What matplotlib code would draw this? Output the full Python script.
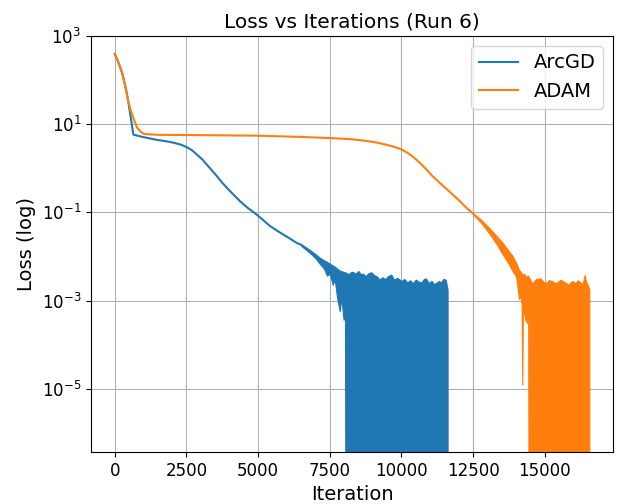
import matplotlib
matplotlib.use("Agg")
import matplotlib.pyplot as plt
from matplotlib.ticker import FixedLocator, NullLocator, LogFormatterSciNotation

# ---------------- ArcGD ----------------
# smooth part of the loss curve
arc_iter = [0, 100, 250, 380, 470, 560, 650, 1000, 1482, 1800, 2060, 2300, 2523, 2700,
            2870, 3050, 3218, 3400, 3565, 3750, 3912, 4150, 4375, 4650, 4954, 5200,
            5417, 5764, 6050, 6343, 6500]
arc_loss = [390, 280, 150, 68, 33, 14, 5.8, 5.1, 4.4, 4.1, 3.8, 3.45, 3.0, 2.55,
            2.04, 1.6, 1.2, 0.88, 0.66, 0.47, 0.36, 0.25, 0.178, 0.125, 0.089, 0.065,
            0.049, 0.035, 0.027, 0.0204, 0.0185]

# noisy tail: upper and lower envelope of the oscillating loss
arc_band_iter = [6500, 6800, 7000, 7153, 7300, 7400, 7500, 7600, 7674, 7760, 7847, 7900,
                 7980, 8030, 8056, 8150, 8230, 8280, 8290, 8300, 8400, 8500, 8580, 8657,
                 8750, 8850, 8947, 9050, 9150, 9236, 9330, 9430, 9530, 9641, 9740, 9850,
                 10000, 10100, 10200, 10300, 10393, 10500, 10600, 10700, 10780, 10856,
                 10950, 11050, 11130, 11204, 11300, 11380, 11458, 11540, 11608]
arc_band_hi = [0.0192, 0.0142, 0.0114, 0.0094, 0.0082, 0.0076, 0.0069, 0.0063, 0.0059,
               0.0053, 0.0048, 0.0047, 0.0045, 0.0044, 0.0043, 0.0040, 0.0044, 0.0045,
               0.0045, 0.0045, 0.0041, 0.0047, 0.0040, 0.0041, 0.0036, 0.0042, 0.0044,
               0.0038, 0.0035, 0.0030, 0.0034, 0.0031, 0.0036, 0.0039, 0.0030, 0.0033,
               0.0028, 0.0031, 0.0026, 0.0029, 0.0025, 0.0030, 0.0027, 0.0026, 0.0031,
               0.0032, 0.0025, 0.0028, 0.0024, 0.0025, 0.0028, 0.0026, 0.0031, 0.0030,
               0.0018]
arc_band_lo = [0.0175, 0.0122, 0.0092, 0.0068, 0.0053, 0.0037, 0.0041, 0.0023, 0.0030,
               0.0011, 0.00058, 0.0012, 0.00037, 0.0005, 1e-12, 1e-12, 1e-12, 1e-12,
               9e-5, 1e-12, 1e-12, 1e-12, 1e-12, 1e-12, 1e-12, 1e-12, 1e-12, 1e-12,
               1e-12, 1e-12, 1e-12, 1e-12, 1e-12, 1e-12, 1e-12, 1e-12, 1e-12, 1e-12,
               1e-12, 1e-12, 1e-12, 1e-12, 1e-12, 1e-12, 1e-12, 1e-12, 1e-12, 1e-12,
               1e-12, 1e-12, 1e-12, 1e-12, 1e-12, 1e-12, 1e-12]

# ---------------- ADAM ----------------
adam_iter = [0, 93, 266, 382, 463, 555, 671, 787, 903, 1018, 1482, 3000, 4954, 6500,
             7500, 8194, 8700, 9120, 9450, 9699, 9900, 10046, 10200, 10336, 10480,
             10625, 10850, 11088, 11380, 11667, 12000, 12250, 12500]
adam_loss = [390, 286, 143, 66, 35, 21, 12.6, 8.2, 6.8, 6.0, 5.75, 5.65, 5.5, 5.15,
             4.85, 4.6, 4.25, 3.86, 3.45, 3.13, 2.85, 2.58, 2.27, 1.97, 1.65, 1.36,
             0.97, 0.66, 0.44, 0.30, 0.19, 0.13, 0.094]

adam_band_iter = [12500, 12800, 13056, 13300, 13518, 13700, 13866, 14000, 14097, 14150,
                  14190, 14213, 14236, 14280, 14329, 14420, 14444, 14560, 14700, 14850,
                  14950, 15023, 15140, 15255, 15340, 15428, 15550, 15660, 15750, 15833,
                  15950, 16065, 16150, 16238, 16320, 16389, 16430, 16470, 16551]
adam_band_hi = [0.097, 0.066, 0.045, 0.030, 0.021, 0.0145, 0.0105, 0.0072, 0.0050,
                0.0046, 0.0040, 0.0041, 0.0038, 0.0041, 0.0035, 0.0037, 0.0034, 0.0025,
                0.0031, 0.0032, 0.0027, 0.0025, 0.0029, 0.0028, 0.0025, 0.0026, 0.0030,
                0.0027, 0.0025, 0.0023, 0.0028, 0.0025, 0.0029, 0.0026, 0.0024, 0.0038,
                0.0028, 0.0025, 0.0018]
adam_band_lo = [0.090, 0.056, 0.034, 0.020, 0.0115, 0.0075, 0.0048, 0.0035, 0.0011,
                0.0013, 0.0008, 1.26e-5, 0.0007, 0.0005, 0.00035, 0.0003, 1e-12, 1e-12,
                1e-12, 1e-12, 1e-12, 1e-12, 1e-12, 1e-12, 1e-12, 1e-12, 1e-12, 1e-12,
                1e-12, 1e-12, 1e-12, 1e-12, 1e-12, 1e-12, 1e-12, 1e-12, 1e-12, 1e-12,
                1e-12]

y_ticks = [1e3, 1e1, 1e-1, 1e-3, 1e-5]
x_ticks = [0, 2500, 5000, 7500, 10000, 12500, 15000]

blue = "#1f77b4"
orange = "#ff7f0e"

fig = plt.figure(figsize=(6.23, 5.04), dpi=100)
ax = fig.add_axes([0.1461, 0.1032, 0.8379, 0.8254])

ax.plot(arc_iter, arc_loss, color=blue, lw=1.5, label="ArcGD", zorder=2)
ax.fill_between(arc_band_iter, arc_band_lo, arc_band_hi, color=blue,
                lw=0.8, edgecolor=blue, zorder=2)
ax.plot(adam_iter, adam_loss, color=orange, lw=1.5, label="ADAM", zorder=2)
ax.fill_between(adam_band_iter, adam_band_lo, adam_band_hi, color=orange,
                lw=0.8, edgecolor=orange, zorder=2)

ax.set_yscale("log")
ax.set_ylim(10 ** -6.43, 1e3)
ax.yaxis.set_major_locator(FixedLocator(y_ticks))
ax.yaxis.set_major_formatter(LogFormatterSciNotation())
ax.yaxis.set_minor_locator(NullLocator())
ax.set_xticks(x_ticks)

ax.tick_params(labelsize=12)
ax.set_xlabel("Iteration", fontsize=14)
ax.set_ylabel("Loss (log)", fontsize=14)
ax.set_title("Loss vs Iterations (Run 6)", fontsize=14.5)
ax.grid(True, zorder=1)
ax.set_axisbelow(True)
ax.legend(loc="upper right", fontsize=14)

fig.savefig("out.png", dpi=100)
